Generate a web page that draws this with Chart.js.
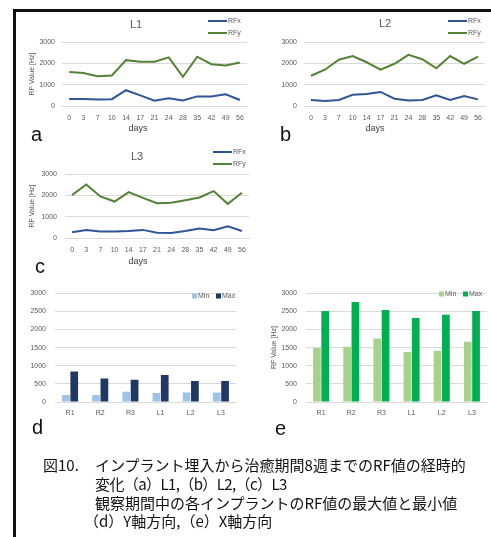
<!DOCTYPE html>
<html>
<head>
<meta charset="utf-8">
<script src="https://cdn.jsdelivr.net/npm/chart.js@4.4.0/dist/chart.umd.min.js"></script>
<style>
  html, body { margin: 0; padding: 0; background: #fff; }
  body { width: 491px; height: 537px; position: relative; overflow: hidden;
         font-family: "Liberation Sans", Arial, sans-serif; }
  .frame-top  { position: absolute; left: 13px; top: 9px; width: 478px; height: 2.5px; background: #111; }
  .frame-left { position: absolute; left: 13px; top: 9px; width: 2.5px; height: 528px; background: #111; }
  canvas { position: absolute; }
  .tag { position: absolute; font-size: 20px; line-height: 1; color: #111; }
  .cap { position: absolute; font-family: "Noto Sans CJK JP", sans-serif; font-size: 15px;
         line-height: 1; color: #111; white-space: nowrap; }
  .tight { letter-spacing: -0.6px; }
</style>
</head>
<body>
<div class="frame-top"></div>
<div class="frame-left"></div>

<canvas id="chartA" width="235" height="125" style="left:20px;top:12px"></canvas>
<canvas id="chartB" width="228" height="125" style="left:263px;top:12px"></canvas>
<canvas id="chartC" width="235" height="125" style="left:20px;top:144px"></canvas>
<canvas id="chartD" width="225" height="140" style="left:20px;top:280px"></canvas>
<canvas id="chartE" width="226" height="140" style="left:265px;top:280px"></canvas>

<div class="tag" style="left:31px;top:124px">a</div>
<div class="tag" style="left:280px;top:124px">b</div>
<div class="tag" style="left:35px;top:256px">c</div>
<div class="tag" style="left:32px;top:417px">d</div>
<div class="tag" style="left:275px;top:418px">e</div>

<div class="cap" style="left:43px;top:457px">図10.</div>
<div class="cap" style="left:95px;top:457px">インプラント埋入から治癒期間8週までのRF値の経時的</div>
<div class="cap tight" style="left:95px;top:476px">変化（a）L1,（b）L2,（c）L3</div>
<div class="cap" style="left:95px;top:495px">観察期間中の各インプラントのRF値の最大値と最小値</div>
<div class="cap" style="left:84px;top:513px">（d）Y軸方向,（e）X軸方向</div>

<script>
// Healing period in days
const days = ['0', '3', '7', '10', '14', '17', '21', '24', '28', '35', '42', '49', '56'];
const seriesNames = ['RFx', 'RFy'];

// RF values [Hz] per implant over time
const l1RFx = [330, 330, 300, 320, 740, 500, 250, 360, 260, 450, 450, 550, 280];
const l1RFy = [1590, 1550, 1400, 1430, 2150, 2080, 2080, 2280, 1370, 2310, 1960, 1900, 2040];
const l2RFx = [280, 240, 280, 530, 560, 660, 340, 260, 280, 500, 280, 470, 310];
const l2RFy = [1420, 1700, 2170, 2340, 2050, 1700, 1980, 2400, 2190, 1770, 2340, 1980, 2310];
const l3RFx = [270, 380, 300, 300, 330, 380, 250, 240, 330, 440, 360, 550, 330];
const l3RFy = [2010, 2510, 1950, 1710, 2150, 1880, 1630, 1650, 1770, 1900, 2200, 1600, 2120];

// Min / max RF values over the observation period
const implants = ['R1', 'R2', 'R3', 'L1', 'L2', 'L3'];
const barNames = ['Min', 'Max'];
const yDirMin = [190, 190, 280, 245, 265, 265];
const yDirMax = [840, 650, 615, 745, 580, 580];
const xDirMin = [1490, 1520, 1750, 1380, 1410, 1660];
const xDirMax = [2510, 2755, 2535, 2315, 2405, 2510];

const FONT = '"Liberation Sans", Arial, sans-serif';
const GRAY = '#595959';
const GRID = '#D9D9D9';

// Panel title, x-axis caption and a compact legend drawn at fixed spots
const panelText = {
  id: 'panelText',
  afterDraw(chart, args, opts) {
    const ctx = chart.ctx;
    ctx.save();
    ctx.textBaseline = 'middle';
    if (opts.title) {
      ctx.font = `11px ${FONT}`;
      ctx.fillStyle = GRAY;
      ctx.textAlign = 'center';
      ctx.fillText(opts.title.text, opts.title.x, opts.title.y);
    }
    if (opts.xTitle) {
      ctx.font = `9px ${FONT}`;
      ctx.fillStyle = '#404040';
      ctx.textAlign = 'center';
      ctx.fillText(opts.xTitle.text, opts.xTitle.x, opts.xTitle.y);
    }
    if (opts.legend) {
      const L = opts.legend;
      ctx.font = `7px ${FONT}`;
      ctx.textAlign = 'left';
      chart.data.datasets.forEach((ds, i) => {
        if (L.kind === 'line') {
          const y = L.y + i * L.dy;
          ctx.strokeStyle = ds.borderColor;
          ctx.lineWidth = 2;
          ctx.beginPath();
          ctx.moveTo(L.x, y);
          ctx.lineTo(L.x + L.len, y);
          ctx.stroke();
          ctx.fillStyle = GRAY;
          ctx.fillText(ds.label, L.x + L.len + 1, y);
        } else {
          const x = L.x + i * L.dx;
          ctx.fillStyle = ds.backgroundColor;
          ctx.fillRect(x, L.y - 2.5, 5, 5);
          ctx.fillStyle = GRAY;
          ctx.fillText(ds.label, x + 6, L.y);
        }
      });
    }
    ctx.restore();
  }
};

const plainNumber = v => String(v);

function yTitleOpts(text) {
  return { display: !!text, text: text || '', color: GRAY, padding: 0,
           font: { family: FONT, size: 7 } };
}

function lineChart(id, rfx, rfy, pad, yWidth, yLabelPad, yTitle, text) {
  return new Chart(document.getElementById(id), {
    type: 'line',
    data: {
      labels: days,
      datasets: [
        { label: seriesNames[0], data: rfx, borderColor: '#2F5597', backgroundColor: '#2F5597',
          borderWidth: 2, pointRadius: 0, tension: 0 },
        { label: seriesNames[1], data: rfy, borderColor: '#548235', backgroundColor: '#548235',
          borderWidth: 2, pointRadius: 0, tension: 0 }
      ]
    },
    options: {
      responsive: false, animation: false, devicePixelRatio: 1,
      layout: { padding: pad },
      plugins: { legend: { display: false }, tooltip: { enabled: false }, panelText: text },
      scales: {
        x: {
          offset: true,
          grid: { display: false, drawTicks: false },
          border: { color: GRID },
          ticks: { color: GRAY, font: { family: FONT, size: 7 }, padding: 8,
                   maxRotation: 0, autoSkip: false },
          afterFit: s => { s.height = 18; }
        },
        y: {
          min: 0, max: 3000,
          ticks: { stepSize: 1000, color: GRAY, font: { family: FONT, size: 7 },
                   padding: yLabelPad, callback: plainNumber },
          grid: { color: GRID, drawTicks: false },
          border: { display: false },
          title: yTitleOpts(yTitle),
          afterFit: s => { s.width = yWidth; }
        }
      }
    },
    plugins: [panelText]
  });
}

function barChart(id, minData, maxData, colors, pad, yWidth, yTitle, text) {
  return new Chart(document.getElementById(id), {
    type: 'bar',
    data: {
      labels: implants,
      datasets: [
        { label: barNames[0], data: minData, backgroundColor: colors[0],
          categoryPercentage: 0.55, barPercentage: 0.93 },
        { label: barNames[1], data: maxData, backgroundColor: colors[1],
          categoryPercentage: 0.55, barPercentage: 0.93 }
      ]
    },
    options: {
      responsive: false, animation: false, devicePixelRatio: 1,
      layout: { padding: pad },
      plugins: { legend: { display: false }, tooltip: { enabled: false }, panelText: text },
      scales: {
        x: {
          grid: { display: false, drawTicks: false },
          border: { color: GRID },
          ticks: { color: GRAY, font: { family: FONT, size: 7 }, padding: 6.5, maxRotation: 0 },
          afterFit: s => { s.height = 16; }
        },
        y: {
          min: 0, max: 3000,
          ticks: { stepSize: 500, color: GRAY, font: { family: FONT, size: 7 },
                   padding: 9, callback: plainNumber },
          grid: { color: GRID, drawTicks: false },
          border: { display: false },
          title: yTitleOpts(yTitle),
          afterFit: s => { s.width = yWidth; }
        }
      }
    },
    plugins: [panelText]
  });
}

lineChart('chartA', l1RFx, l1RFy, { left: 8, right: 8, top: 30, bottom: 13 }, 34, 7, 'RF Value [Hz]', {
  title: { text: 'L1', x: 116, y: 13 },
  xTitle: { text: 'days', x: 118, y: 117 },
  legend: { kind: 'line', x: 188, y: 9, dy: 12, len: 19 }
});

lineChart('chartB', l2RFx, l2RFy, { left: 7, right: 6, top: 30, bottom: 13 }, 34, 7, null, {
  title: { text: 'L2', x: 122, y: 12 },
  xTitle: { text: 'days', x: 112, y: 117 },
  legend: { kind: 'line', x: 185, y: 9, dy: 12, len: 19 }
});

lineChart('chartC', l3RFx, l3RFy, { left: 8, right: 6, top: 30, bottom: 13 }, 37, 8, 'RF Value [Hz]', {
  title: { text: 'L3', x: 117, y: 13 },
  xTitle: { text: 'days', x: 118, y: 118 },
  legend: { kind: 'line', x: 193, y: 8, dy: 12, len: 19 }
});

barChart('chartD', yDirMin, yDirMax, ['#9DC3E6', '#203864'],
  { left: 5, right: 9, top: 9, bottom: 2 }, 30, null, {
  legend: { kind: 'box', x: 172, y: 16, dx: 24 }
});

barChart('chartE', xDirMin, xDirMax, ['#A9D18E', '#00B050'],
  { left: 5, right: 4, top: 9, bottom: 2 }, 36, 'RF Value [Hz]', {
  legend: { kind: 'box', x: 174, y: 14, dx: 24 }
});
</script>
</body>
</html>
